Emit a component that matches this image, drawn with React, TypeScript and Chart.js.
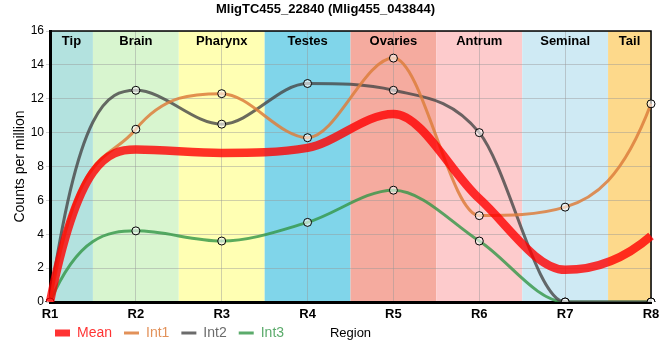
import React, { useEffect, useRef } from "react";
import { Chart, registerables } from "chart.js";

Chart.register(...registerables);

const chartTitle = "MligTC455_22840 (Mlig455_043844)";
const categories = ["R1", "R2", "R3", "R4", "R5", "R6", "R7", "R8"];
const regionNames = ["Tip", "Brain", "Pharynx", "Testes", "Ovaries", "Antrum", "Seminal", "Tail"];
const regionColors = ["#b3e2df", "#d8f5cf", "#ffffb3", "#80d5ea", "#f5ab9f", "#fdcbcc", "#cfeaf4", "#fdd98b"];
const meanValues = [0, 9.0, 8.8, 9.1, 11.1, 6.1, 1.9, 3.9];
const int1Values = [0, 10.2, 12.3, 9.7, 14.4, 5.1, 5.6, 11.7];
const int2Values = [0, 12.5, 10.5, 12.9, 12.5, 10.0, 0, 0];
const int3Values = [0, 4.2, 3.6, 4.7, 6.6, 3.6, 0, 0];
const seriesNames = ["Mean", "Int1", "Int2", "Int3"];
const seriesColors = ["rgba(255,0,0,0.8)", "rgba(221,126,60,0.85)", "rgba(70,70,70,0.8)", "rgba(50,150,70,0.8)"];
const yMin = 0;
const yMax = 16;
const yStep = 2;

const FONT = "'Liberation Sans', Arial, sans-serif";

const bandPlugin = {
  id: "bands",
  beforeDraw(chart: any) {
    const { ctx, chartArea } = chart;
    const xs = chart.scales.x;
    ctx.save();
    regionNames.forEach((_, i) => {
      const l = Math.max(chartArea.left, xs.getPixelForValue(i - 0.5));
      const r = Math.min(chartArea.right, xs.getPixelForValue(i + 0.5));
      ctx.fillStyle = regionColors[i];
      ctx.fillRect(l, chartArea.top, r - l, chartArea.bottom - chartArea.top);
    });
    ctx.restore();
  },
  beforeDatasetsDraw(chart: any) {
    const { ctx, chartArea } = chart;
    const xs = chart.scales.x;
    ctx.save();
    ctx.fillStyle = "#000";
    ctx.font = `bold 13px ${FONT}`;
    ctx.textAlign = "center";
    ctx.textBaseline = "middle";
    regionNames.forEach((name, i) => {
      const l = Math.max(chartArea.left, xs.getPixelForValue(i - 0.5));
      const r = Math.min(chartArea.right, xs.getPixelForValue(i + 0.5));
      ctx.fillText(name, (l + r) / 2, chartArea.top + 10);
    });
    ctx.strokeStyle = "#000";
    ctx.lineWidth = 1.5;
    ctx.beginPath();
    ctx.moveTo(chartArea.left, chartArea.top);
    ctx.lineTo(chartArea.right, chartArea.top);
    ctx.lineTo(chartArea.right, chartArea.bottom);
    ctx.stroke();
    ctx.restore();
  },
};

const START_SLOPE = 2.8;
const END_SLOPE = 2.2;

const endSlopePlugin = {
  id: "endSlopes",
  beforeDatasetDraw(chart: any, args: any) {
    const meta = args.meta;
    if (meta.type !== "line" || !meta.dataset) return;
    meta.dataset.updateControlPoints(chart.chartArea, "x");
    const pts = meta.data;
    const n = pts.length;
    if (n < 2) return;
    const a = pts[0];
    const b = pts[1];
    a.cp2x = a.x + (b.x - a.x) / 3;
    a.cp2y = a.y + (START_SLOPE * (b.y - a.y)) / 3;
    const z = pts[n - 1];
    const w = pts[n - 2];
    z.cp1x = z.x - (z.x - w.x) / 3;
    z.cp1y = z.y - (END_SLOPE * (z.y - w.y)) / 3;
    meta.dataset._path = undefined;
  },
};

const legendShiftPlugin = {
  id: "legendShift",
  afterLayout(chart: any) {
    if (chart.legend) {
      chart.legend.left = 43;
      chart.legend.top = chart.chartArea.bottom + 12;
    }
  },
};

export default function App() {
  const canvasRef = useRef<HTMLCanvasElement | null>(null);

  useEffect(() => {
    if (!canvasRef.current) return;
    Chart.defaults.font.family = FONT;
    Chart.defaults.color = "#000";
    const allValues = [meanValues, int1Values, int2Values, int3Values];
    const chart = new Chart(canvasRef.current, {
      type: "line",
      data: {
        labels: categories,
        datasets: allValues.map((vals, i) => ({
          label: seriesNames[i],
          data: vals,
          borderColor: seriesColors[i],
          backgroundColor: seriesColors[i],
          borderWidth: i === 0 ? 8.5 : 3,
          cubicInterpolationMode: "monotone",
          pointRadius: i === 0 ? 0 : 4,
          pointHoverRadius: i === 0 ? 0 : 4,
          pointBackgroundColor: "rgba(255,255,255,0.6)",
          pointBorderColor: "#000",
          pointBorderWidth: 1,
          fill: false,
        })),
      },
      options: {
        animation: false,
        responsive: false,
        maintainAspectRatio: false,
        layout: { padding: { top: 0, right: 9, bottom: 0, left: 0 } },
        scales: {
          x: {
            type: "category",
            offset: false,
            ticks: { font: { size: 13, weight: "bold" }, color: "#000", padding: 5, maxRotation: 0, autoSkip: false },
            grid: { color: "rgba(150,150,150,0.45)", drawTicks: false },
            border: { color: "#000", width: 3 },
            title: {
              display: true,
              text: "Region",
              font: { size: 13 },
              color: "#000",
              padding: { top: 0, bottom: -16.8 },
            },
            afterFit: (s: any) => {
              s.height = 22;
              s.paddingRight = 0;
              s.paddingLeft = 0;
            },
          },
          y: {
            min: yMin,
            max: yMax,
            ticks: { stepSize: yStep, font: { size: 12 }, color: "#000", padding: 2 },
            grid: { color: "rgba(150,150,150,0.45)", tickLength: 4 },
            border: { color: "#000", width: 3 },
            title: {
              display: true,
              text: "Counts per million",
              font: { size: 14 },
              color: "#000",
              padding: { top: 11.6, bottom: 0 },
            },
            afterFit: (s: any) => {
              s.width = 50;
            },
          },
        },
        plugins: {
          title: {
            display: true,
            text: chartTitle,
            font: { size: 13, weight: "bold" },
            color: "#000",
            padding: { top: 2, bottom: 13.4 },
          },
          legend: {
            display: true,
            position: "bottom",
            align: "start",
            labels: {
              usePointStyle: true,
              pointStyleWidth: 15,
              padding: 12,
              font: { size: 14 },
              generateLabels: (c: any) => {
                const items = (Chart as any).defaults.plugins.legend.labels.generateLabels(c);
                return items.map((it: any, i: number) => ({
                  ...it,
                  pointStyle: "line",
                  lineWidth: i === 0 ? 7 : 3,
                  strokeStyle: seriesColors[i],
                  fillStyle: seriesColors[i],
                  fontColor: seriesColors[i],
                  lineCap: "butt",
                }));
              },
            },
          },
          tooltip: { enabled: false },
        },
      },
      plugins: [bandPlugin, endSlopePlugin, legendShiftPlugin],
    } as any);
    return () => chart.destroy();
  }, []);

  return (
    <div style={{ position: "fixed", left: 0, top: 0, width: 660, height: 360 }}>
      <canvas ref={canvasRef} width={660} height={360} style={{ display: "block", width: 660, height: 360 }} />
    </div>
  );
}
